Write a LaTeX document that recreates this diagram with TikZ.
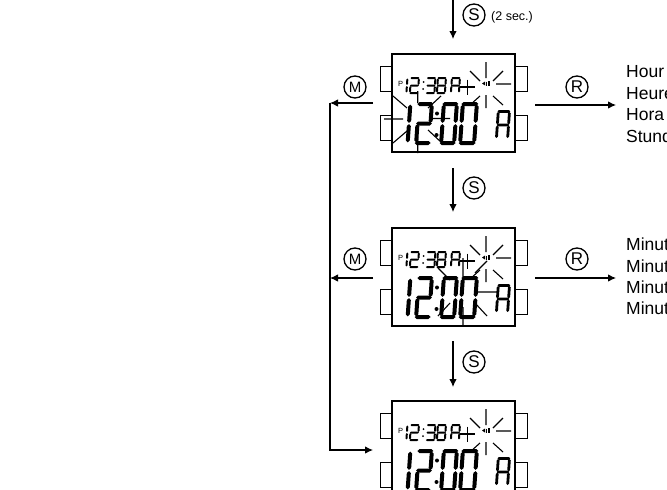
\documentclass[tikz,border=0pt]{standalone}
\usepackage{fontspec}
\setmainfont{Liberation Sans}
\usetikzlibrary{arrows.meta}
\tikzset{
  lcd/.style={draw=black,line width=1.1pt,fill=white,minimum width=123pt,minimum height=98pt,inner sep=0pt,outer sep=0pt},
  btn/.style={draw=black,line width=1pt,fill=white},
  ray/.style={draw=black,line width=1.1pt},
  conn/.style={draw=black,line width=1.1pt},
  arr/.style={conn,-{Latex[length=8pt,width=7.5pt]}},
  key/.style={circle,draw=black,line width=1.3pt,minimum size=22pt,inner sep=0pt,font=\fontsize{17}{17}\selectfont},
  keym/.style={key,font=\fontsize{15}{15}\selectfont},
  lab/.style={anchor=west,inner sep=0pt,font=\fontsize{17.5}{20}\selectfont}
}
\newcommand{\hsg}[3]{\fill ({#1},{#3}) -- ({#1+\T},{#3-\T}) -- ({#2-\T},{#3-\T}) -- ({#2},{#3}) -- ({#2-\T},{#3+\T}) -- ({#1+\T},{#3+\T}) -- cycle;}
\newcommand{\vsg}[3]{\fill ({#1},{#2}) -- ({#1+\T},{#2+\T}) -- ({#1+\T},{#3-\T}) -- ({#1},{#3}) -- ({#1-\T},{#3-\T}) -- ({#1-\T},{#2+\T}) -- cycle;}
\newcommand{\sga}{\hsg{0.6}{\W-0.6}{\T}}
\newcommand{\sgg}{\hsg{0.6}{\W-0.6}{\H/2}}
\newcommand{\sgd}{\hsg{0.6}{\W-0.6}{\H-\T}}
\newcommand{\sgb}{\vsg{\W-\T}{\T+0.6}{\H/2-0.6}}
\newcommand{\sgc}{\vsg{\W-\T}{\H/2+0.6}{\H-\T-0.6}}
\newcommand{\sgf}{\vsg{\T}{\T+0.6}{\H/2-0.6}}
\newcommand{\sge}{\vsg{\T}{\H/2+0.6}{\H-\T-0.6}}
\newcommand{\dgt}[6]{\begin{scope}[shift={(#1,#2)},xslant=0.07]
  \def\W{#3}\def\H{#4}\def\T{#5}
  \foreach \s in {#6}{\csname sg\s\endcsname}
\end{scope}}
\newcommand{\watch}[2]{%
  \begin{scope}[shift={(0,#2)}]
    \draw[btn] (380,12.5) rectangle (392,37.5);
    \draw[btn] (380,61.5) rectangle (392,86.5);
    \draw[btn] (515,12.5) rectangle (527,37.5);
    \draw[btn] (515,61.5) rectangle (527,86.5);
    \node[lcd] (#1) at (453.5,49) {};
    \node[inner sep=0pt,font=\fontsize{7.5}{7.5}\selectfont] (#1p) at (400.5,29.5) {P};
    \dgt{399.5}{23}{9}{17}{1}{b,c}
    \dgt{410}{23}{10}{17}{1}{a,b,g,e,d}
    \fill (423.5,28) circle (1) (423,35) circle (1);
    \dgt{426.5}{23}{10}{17}{1}{a,b,g,c,d}
    \dgt{437}{23}{10}{17}{1}{a,b,c,d,e,f,g}
    \dgt{451}{23}{10}{17}{1}{a,b,c,e,f,g}
    \draw[ray,line width=1.3pt] (460,33) -- (475,33) (467.5,25.5) -- (467.5,40.5);
    \fill (482,29.5) -- (485,27.5) -- (485,31.5) -- cycle;
    \draw[line width=0.5pt] (486.5,27.5) -- (486.5,31.5) (488,27.5) rectangle (489.7,31.5);
    \draw[ray] (486,8) -- (486,24) (486,41) -- (486,54)
      (470,17) -- (480,27) (503,17) -- (493,27)
      (493,42) -- (503,51) (480,42) -- (470,51)
      (496,30) -- (511,30);
    \dgt{402.5}{48}{10}{43}{2}{b,c}
    \dgt{417}{48}{17}{43}{2}{a,b,g,e,d}
    \fill (437,59.5) circle (2) (436.5,81) circle (2);
    \dgt{442}{48}{17}{43}{2}{a,b,c,d,e,f}
    \dgt{461}{48}{18}{43}{2}{a,b,c,d,e,f}
    \dgt{497}{56}{14}{30}{1.4}{a,b,c,e,f,g}
  \end{scope}}
\begin{document}
\begin{tikzpicture}[x=1pt,y=-1pt]
  \useasboundingbox (0,0) rectangle (667,490);
  \clip (0,0) rectangle (667,490);
  \fill[white] (0,0) rectangle (667,490);
  \watch{wa}{54}
  \watch{wb}{228}
  \watch{wc}{401}
  \draw[ray] (417.7,91) -- (417.7,103) (417.7,138) -- (417.7,153)
    (384,119) -- (403,119) (432,118.5) -- (450,118.5)
    (393,96) -- (407,108) (393,143) -- (407,131)
    (428,130) -- (442,143) (428,108) -- (441,96);
  \draw[ray] (463,258) -- (463,277) (463,307) -- (463,326)
    (478,292) -- (497,292)
    (438,268) -- (450,280) (475,273) -- (487,261)
    (438,316) -- (450,303) (475,303) -- (487,316);
  \node[key] (ks1) at (474,15) {S};
  \node[key] (ks2) at (474,188) {S};
  \node[key] (ks3) at (474,362) {S};
  \node[keym] (km1) at (355,87) {M};
  \node[keym] (km2) at (355,259) {M};
  \node[key] (kr1) at (577,87) {R};
  \node[key] (kr2) at (577,259) {R};
  \node[anchor=west,inner sep=0pt,font=\fontsize{12.5}{12.5}\selectfont] (sec) at (491,17) {(2 sec.)};
  \coordinate (t0) at (453,0);
  \coordinate (t1) at (453,39);
  \coordinate (t2) at (453,168);
  \coordinate (t3) at (453,212);
  \coordinate (t4) at (453,341);
  \coordinate (t5) at (453,387);
  \coordinate (b1) at (330,103);
  \coordinate (b2) at (330,278);
  \coordinate (b3) at (330,450);
  \coordinate (ms1) at (373,103);
  \coordinate (ms2) at (373,278);
  \coordinate (me3) at (373,450);
  \coordinate (rs1) at (535,105);
  \coordinate (re1) at (616,105);
  \coordinate (rs2) at (535,278);
  \coordinate (re2) at (616,278);
  \draw[arr] (t0) -- (t1);
  \draw[arr] (t2) -- (t3);
  \draw[arr] (t4) -- (t5);
  \draw[arr] (ms1) -- (b1);
  \draw[arr] (ms2) -- (b2);
  \draw[arr] (b1) -- (b3) -- (me3);
  \draw[arr] (rs1) -- (re1);
  \draw[arr] (rs2) -- (re2);
  \node[lab] (h1) at (626,72) {Hour};
  \node[lab] (h2) at (626,93.3) {Heure};
  \node[lab] (h3) at (626,114.6) {Hora};
  \node[lab] (h4) at (626,136) {Stunde};
  \node[lab] (n1) at (626,244.5) {Minute};
  \node[lab] (n2) at (626,265.8) {Minute};
  \node[lab] (n3) at (626,287.1) {Minuto};
  \node[lab] (n4) at (626,308.4) {Minute};
\end{tikzpicture}
\end{document}
